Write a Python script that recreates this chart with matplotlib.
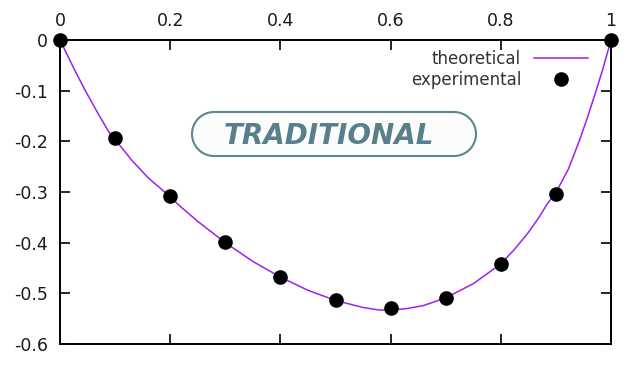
import matplotlib
matplotlib.use("Agg")
import numpy as np
import matplotlib.pyplot as plt
from matplotlib.path import Path
from matplotlib.patches import PathPatch

# theoretical curve
x_theory = [0.0, 0.026, 0.046, 0.068, 0.0895, 0.11, 0.13, 0.16, 0.19, 0.22, 0.25, 0.3, 0.35,
            0.4, 0.45, 0.5, 0.55, 0.58, 0.6, 0.63, 0.66, 0.7, 0.75, 0.8, 0.825, 0.85, 0.87,
            0.884, 0.9, 0.9226, 0.9425, 0.956, 0.973, 0.985, 1.0]
y_theory = [0.0, -0.058, -0.1, -0.143, -0.183, -0.21, -0.237, -0.272, -0.30, -0.33, -0.358,
            -0.40, -0.437, -0.468, -0.494, -0.514, -0.528, -0.533, -0.533, -0.530, -0.524,
            -0.509, -0.481, -0.442, -0.413, -0.38, -0.349, -0.324, -0.301, -0.255, -0.199,
            -0.157, -0.1, -0.058, 0.0]

# experimental points
x_exp = [0.0, 0.1, 0.2, 0.3, 0.4, 0.5, 0.6, 0.7, 0.8, 0.9, 1.0]
y_exp = [0.0, -0.193, -0.308, -0.399, -0.468, -0.513, -0.529, -0.509, -0.442, -0.304, 0.0]

x_ticks = [0, 0.2, 0.4, 0.6, 0.8, 1]
x_labels = ["0", "0.2", "0.4", "0.6", "0.8", "1"]
y_ticks = [0, -0.1, -0.2, -0.3, -0.4, -0.5, -0.6]
y_labels = ["0", "-0.1", "-0.2", "-0.3", "-0.4", "-0.5", "-0.6"]

label_text = "TRADITIONAL"

fig = plt.figure(figsize=(6.33, 3.71), dpi=100)
ax = fig.add_axes([60 / 633, 1 - 344 / 371, 551 / 633, 304 / 371])

ax.plot(x_theory, y_theory, color="#a020f0", lw=1.1, label="theoretical")
ax.plot(x_exp, y_exp, "o", color="black", ms=9.5, clip_on=False, zorder=5,
        label="experimental")

ax.set_xlim(0, 1)
ax.set_ylim(-0.6, 0)
ax.set_xticks(x_ticks)
ax.set_xticklabels(x_labels)
ax.set_yticks(y_ticks)
ax.set_yticklabels(y_labels)
ax.tick_params(direction="in", length=7, width=1.2, top=True, right=True,
               labeltop=True, labelbottom=False, labelsize=12.5,
               labelcolor="#1a1a1a")
ax.tick_params(axis="x", pad=7)
ax.tick_params(axis="y", pad=8.5)
for s in ax.spines.values():
    s.set_linewidth(1.4)

leg = ax.legend(loc="upper right", bbox_to_anchor=(0.976, 1.0), frameon=False,
                markerfirst=False, fontsize=12, handlelength=3.2,
                labelspacing=0.2, handletextpad=0.8, borderaxespad=0.2)
for t in leg.get_texts():
    t.set_color("#333333")

# pill shaped label box, built in inches so the ends are true half circles
x0, x1 = 1.92, 4.76
yc, r = (371 - 134) / 100, 0.22
a_right = np.linspace(-np.pi / 2, np.pi / 2, 40)
a_left = np.linspace(np.pi / 2, 3 * np.pi / 2, 40)
verts = np.concatenate([
    np.column_stack([x1 - r + r * np.cos(a_right), yc + r * np.sin(a_right)]),
    np.column_stack([x0 + r + r * np.cos(a_left), yc + r * np.sin(a_left)]),
])
verts = np.vstack([verts, verts[:1]])
codes = [Path.MOVETO] + [Path.LINETO] * (len(verts) - 2) + [Path.CLOSEPOLY]
pill = PathPatch(Path(verts, codes), transform=fig.dpi_scale_trans,
                 facecolor="#fbfcfc", edgecolor="#5f8592", lw=1.5, zorder=6)
fig.patches.append(pill)
fig.text(329 / 633, 1 - 144.3 / 371, label_text, ha="center", va="baseline",
         fontsize=20, fontweight="bold", fontstyle="italic", color="#5a7f8c",
         zorder=7)

fig.savefig("out.png", dpi=100)
